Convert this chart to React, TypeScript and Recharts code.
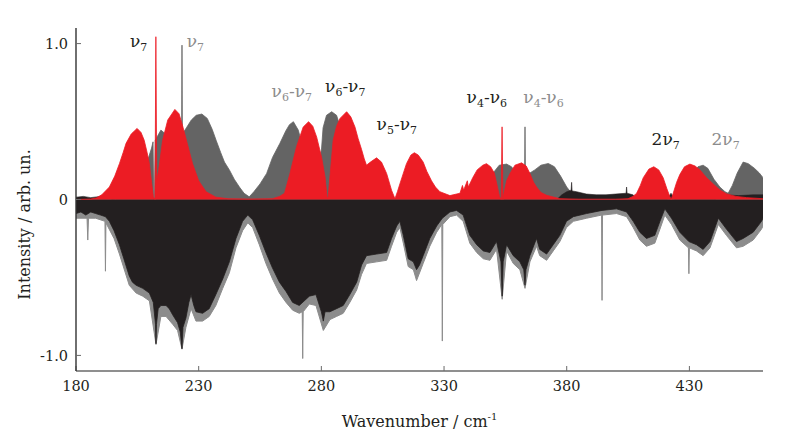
import React from "react";
import { ComposedChart, Area, XAxis, YAxis, ReferenceDot } from "recharts";

// ---- data (wavenumber, intensity) ----
const grayPts: [number, number][] = [
  [180, 0.005], [195, 0.005], [200, 0.01], [203, 0.04], [205.8, 0.1], [207.5, 0.17], [209.2, 0.25], [210.8, 0.33],
  [211.4, 0.37], [211.7, 0.0], [212.0, 0.0], [212.3, 0.38], [214.6, 0.445], [216.5, 0.42], [218.5, 0.36], [220, 0.33],
  [221.5, 0.34], [222.8, 0.38], [223.05, 0.4], [223.2, 0.99], [223.35, 0.42], [225, 0.46], [227, 0.51], [229, 0.54],
  [231.3, 0.548], [233.5, 0.52], [235.5, 0.45], [237.1, 0.38], [239, 0.3], [240.5, 0.24], [242.5, 0.19], [244.5, 0.13],
  [246.6, 0.08], [248.5, 0.04], [250.6, 0.017], [252.5, 0.05], [255, 0.1], [257.7, 0.167], [260.1, 0.27], [263.1, 0.36],
  [265.5, 0.44], [267, 0.48], [268.6, 0.499], [270.6, 0.445], [273, 0.3], [275.5, 0.18], [277.5, 0.15], [279, 0.22],
  [280.1, 0.33], [280.7, 0.46], [282.1, 0.54], [284.2, 0.563], [286.2, 0.54], [288, 0.45], [291, 0.3], [294, 0.15],
  [297, 0.05], [300, 0.02], [310, 0.005], [340, 0.005], [344, 0.02], [347, 0.08], [350, 0.17], [352.5, 0.22],
  [355.5, 0.227], [357.5, 0.21], [359.5, 0.17], [361.5, 0.15], [362.85, 0.16], [363, 0.466], [363.15, 0.17],
  [365, 0.17], [367, 0.19], [369.5, 0.22], [372.5, 0.231], [375, 0.21], [377.5, 0.15], [380, 0.08], [382, 0.04],
  [384, 0.02], [388, 0.005], [420, 0.005], [425, 0.03], [428, 0.1], [431, 0.17], [433.5, 0.21], [435.6, 0.22],
  [437.5, 0.2], [440, 0.13], [442.4, 0.08], [444.5, 0.05], [445.8, 0.04], [447.5, 0.09], [449.5, 0.17], [451.9, 0.24],
  [454, 0.23], [456.5, 0.2], [458.5, 0.17], [460, 0.14],
];

const redPts: [number, number][] = [
  [180, 0.0], [186, 0.003], [188.2, 0.01], [190.5, 0.03], [193.6, 0.08], [195.8, 0.15], [197.7, 0.23], [199.2, 0.3],
  [200.4, 0.36], [202.5, 0.42], [204.9, 0.456], [206.5, 0.43], [207.8, 0.38], [209, 0.3], [209.9, 0.23], [210.8, 0.11],
  [211.5, 0.02], [212.2, 0.0], [212.55, 1.044], [212.9, 0.12], [213.7, 0.19], [215.3, 0.38], [217.4, 0.51],
  [220.3, 0.578], [222, 0.55], [223.5, 0.47], [225.5, 0.35], [227.5, 0.23], [230, 0.12], [233, 0.05], [237, 0.015],
  [242, 0.005], [250, 0.003], [260, 0.005], [263, 0.02], [265, 0.04], [267.2, 0.167], [269.9, 0.34], [272.6, 0.465],
  [274.8, 0.499], [276.5, 0.47], [278.1, 0.4], [280.1, 0.27], [281.5, 0.145], [282.4, 0.006], [282.8, 0.02],
  [283.8, 0.2], [284.8, 0.38], [286.2, 0.47], [287.6, 0.52], [290.3, 0.563], [292, 0.53], [293.7, 0.465], [295, 0.39],
  [296.4, 0.32], [297.5, 0.26], [298.4, 0.22], [300, 0.24], [302.5, 0.267], [304.5, 0.24], [306.6, 0.167],
  [308.6, 0.06], [310, 0.005], [311, 0.05], [312, 0.1], [314.7, 0.23], [316.5, 0.285], [317.9, 0.3], [319.5, 0.285],
  [321.5, 0.24], [323, 0.18], [324.9, 0.12], [326.5, 0.08], [328.3, 0.05], [332.4, 0.025], [333.7, 0.03],
  [336.5, 0.04], [337.5, 0.09], [338, 0.06], [339.5, 0.12], [339.9, 0.08], [341.7, 0.14], [343.5, 0.19],
  [345.8, 0.22], [347.3, 0.23], [349, 0.21], [350.5, 0.17], [351.5, 0.1], [352.6, 0.02], [353.3, 0.0],
  [353.65, 0.466], [354.0, 0.0], [354.3, 0.03], [355.5, 0.12], [356.9, 0.167], [358.9, 0.22], [361.6, 0.235],
  [363.5, 0.215], [365, 0.167], [366.5, 0.11], [367.7, 0.08], [369.5, 0.045], [371.8, 0.027], [377.2, 0.005],
  [385, 0.002], [400, 0.002], [405, 0.005], [407, 0.02], [408.5, 0.04], [410, 0.09], [411.2, 0.14], [413.5, 0.195],
  [415.5, 0.21], [417.5, 0.19], [419.3, 0.14], [420.8, 0.07], [422, 0.02], [422.6, 0.0], [423.4, 0.04],
  [424.8, 0.11], [426.1, 0.16], [428, 0.21], [430.2, 0.227], [432.3, 0.215], [434.3, 0.19], [437, 0.14],
  [439.7, 0.1], [442.5, 0.06], [445.2, 0.036], [449, 0.02], [453.3, 0.012], [460, 0.005],
];

const noisePts: [number, number][] = [
  [180, 0.015], [183, 0.02], [186, 0.012], [190, 0.02], [193, 0.01], [196, 0.0], [330, 0.0], [333, 0.015],
  [336, 0.01], [338, 0.0], [376, 0.0], [378, 0.03], [380, 0.05], [381.8, 0.06], [382, 0.11], [382.2, 0.055],
  [384, 0.05], [388, 0.035], [392, 0.03], [396, 0.03], [400, 0.035], [404.2, 0.04], [404.4, 0.08], [404.6, 0.04],
  [407, 0.03], [409, 0.0], [421, 0.0], [422.5, 0.04], [424, 0.0], [440, 0.0], [444, 0.03], [450, 0.025],
  [456, 0.03], [460, 0.03],
];

const fringePts: [number, number][] = [
  [180, -0.12], [184.5, -0.12], [184.8, -0.26], [185.1, -0.12], [188, -0.12], [191.8, -0.14], [192, -0.46],
  [192.2, -0.15], [195.5, -0.25], [197.7, -0.35], [201.7, -0.55], [204.5, -0.6], [207.2, -0.62], [209.9, -0.65],
  [212.6, -0.93], [214.6, -0.75], [216.7, -0.75], [219.4, -0.8], [221.4, -0.84], [223.2, -0.96], [224.8, -0.82],
  [226.9, -0.7], [228.9, -0.78], [231.6, -0.78], [234.3, -0.75], [237, -0.68], [239.8, -0.57], [242.5, -0.47],
  [245.2, -0.31], [247.9, -0.2], [250, -0.15], [252, -0.18], [254.7, -0.29], [257.4, -0.41], [260.1, -0.51],
  [262.9, -0.6], [265.6, -0.66], [268.3, -0.71], [271, -0.73], [272.2, -0.72], [272.4, -1.02], [272.6, -0.72],
  [275.1, -0.67], [277.8, -0.68], [280.8, -0.84], [283.5, -0.77], [286.2, -0.75], [288.9, -0.73], [291.6, -0.66],
  [294.4, -0.58], [296.4, -0.48], [298.4, -0.41], [302.5, -0.4], [306.6, -0.39], [308.6, -0.3], [310.7, -0.21],
  [312, -0.18], [313.4, -0.28], [315.4, -0.43], [317.5, -0.45], [318.8, -0.52], [321.5, -0.41], [324.2, -0.3],
  [327, -0.21], [329.1, -0.16], [329.3, -0.908], [329.5, -0.16], [332.4, -0.11], [335.1, -0.1], [337.8, -0.14],
  [340.5, -0.28], [343.3, -0.34], [346, -0.38], [348.7, -0.39], [351.4, -0.32], [353.7, -0.64], [355.5, -0.33],
  [358.2, -0.41], [360.9, -0.45], [363, -0.57], [365, -0.4], [367.7, -0.3], [369, -0.36], [371.8, -0.39],
  [374.5, -0.33], [377.2, -0.27], [379.9, -0.18], [382.7, -0.14], [388.1, -0.12], [394.2, -0.1], [394.4, -0.647],
  [394.6, -0.1], [400.3, -0.09], [404.4, -0.11], [407.1, -0.18], [409.8, -0.26], [412.5, -0.3], [415.9, -0.28],
  [418, -0.19], [420, -0.1], [422.7, -0.16], [426.1, -0.26], [429.6, -0.31], [429.8, -0.476], [430, -0.31],
  [432.9, -0.33], [435.6, -0.36], [438.4, -0.31], [441.8, -0.16], [445.1, -0.23], [449.2, -0.31], [451.9, -0.3],
  [456, -0.26], [459.4, -0.19], [460, -0.17],
];

const corePts: [number, number][] = [
  [180, -0.09], [182, -0.08], [184, -0.1], [186, -0.08], [188, -0.09], [190, -0.1], [192, -0.11], [193.6, -0.14],
  [195.5, -0.2], [197.7, -0.29], [199.5, -0.38], [201.7, -0.49], [203, -0.53], [204.5, -0.55], [207.2, -0.57],
  [209.9, -0.6], [211.5, -0.66], [212.4, -0.8], [212.6, -0.925], [212.8, -0.8], [213.5, -0.7], [214.6, -0.68],
  [216.7, -0.68], [218, -0.7], [219.4, -0.74], [221.4, -0.79], [222.5, -0.85], [223.2, -0.957], [223.6, -0.82],
  [224.8, -0.76], [226, -0.66], [226.9, -0.61], [228, -0.68], [228.9, -0.72], [231.6, -0.73], [234.3, -0.7],
  [237, -0.61], [239.8, -0.51], [242.5, -0.4], [245.2, -0.25], [247.9, -0.14], [250, -0.1], [252, -0.13],
  [254.7, -0.23], [257.4, -0.34], [260.1, -0.44], [262.9, -0.53], [265.6, -0.59], [268.3, -0.66], [271, -0.68],
  [275.1, -0.62], [277.8, -0.61], [280, -0.72], [280.8, -0.78], [281.5, -0.72], [283.5, -0.72], [286.2, -0.7],
  [288.9, -0.68], [291.6, -0.61], [294.4, -0.53], [296.4, -0.42], [298.4, -0.36], [302.5, -0.35], [306.6, -0.34],
  [308.6, -0.25], [310.7, -0.17], [312, -0.14], [313.4, -0.23], [315.4, -0.38], [317.5, -0.4], [318.8, -0.45],
  [320, -0.42], [321.5, -0.36], [324.2, -0.25], [327, -0.17], [329.3, -0.12], [332.4, -0.08], [335.1, -0.07],
  [337.8, -0.1], [340.5, -0.23], [343.3, -0.29], [346, -0.33], [348.7, -0.34], [351.4, -0.27], [353.2, -0.4],
  [353.7, -0.62], [354.1, -0.4], [355.5, -0.29], [358.2, -0.36], [360.9, -0.4], [362.5, -0.45], [363, -0.55],
  [363.4, -0.45], [365, -0.36], [367.7, -0.25], [369, -0.32], [371.8, -0.35], [374.5, -0.29], [377.2, -0.23],
  [379.9, -0.14], [382.7, -0.11], [388.1, -0.09], [394.4, -0.07], [400.3, -0.06], [404.4, -0.08], [407.1, -0.14],
  [409.8, -0.21], [412.5, -0.25], [415.9, -0.23], [418, -0.14], [420, -0.06], [422.7, -0.12], [426.1, -0.21],
  [429.8, -0.27], [432.9, -0.29], [435.6, -0.32], [438.4, -0.27], [441.8, -0.12], [445.1, -0.19], [449.2, -0.27],
  [451.9, -0.25], [456, -0.21], [459.4, -0.14], [460, -0.12],
];

const X_TICKS = [180, 230, 280, 330, 380, 430];
const Y_TICKS = [-1, 0, 1];
const Y_TICKS_RIGHT = [-1, 1];

// annotations: position (wavenumber, intensity), text parts [main, subscript], tone
const labelX = [202.0, 225.1, 259.7, 281.5, 302.5, 339.2, 362.3, 414.6, 439.0];
const labelY = [0.978, 0.978, 0.659, 0.691, 0.445, 0.617, 0.617, 0.351, 0.351];
const labelParts: [string, string][][] = [
  [["ν", "7"]],
  [["ν", "7"]],
  [["ν", "6"], ["-ν", "7"]],
  [["ν", "6"], ["-ν", "7"]],
  [["ν", "5"], ["-ν", "7"]],
  [["ν", "4"], ["-ν", "6"]],
  [["ν", "4"], ["-ν", "6"]],
  [["2ν", "7"]],
  [["2ν", "7"]],
];
const labelTone = ["dark", "light", "light", "dark", "dark", "dark", "light", "dark", "light"];

// ---- build table ----
function buildTable() {
  const map = new Map<number, any>();
  const add = (pts: [number, number][], key: string) => {
    pts.forEach(([x, y]) => {
      const row = map.get(x) ?? { x };
      row[key] = y;
      map.set(x, row);
    });
  };
  add(grayPts, "gray");
  add(redPts, "red");
  add(noisePts, "noise");
  add(fringePts, "fringe");
  add(corePts, "core");
  return Array.from(map.values()).sort((a, b) => a.x - b.x);
}
const table = buildTable();

const FONT = "'DejaVu Serif', serif";
const DARK = "#231f20";
const LIGHT = "#8c8c8c";
const AXIS = "#6a6a6a";

function XTitle(props: any) {
  const vb = props.viewBox || { x: 68, y: 362.7, width: 687, height: 40 };
  const cx = vb.x + vb.width / 2;
  return (
    <text x={cx} y={vb.y + 56} textAnchor="middle" fontFamily={FONT} fontSize={16} fill={DARK}>
      Wavenumber / cm<tspan fontSize={10} dy={-7}>-1</tspan>
    </text>
  );
}

function YTitle(props: any) {
  const vb = props.viewBox || { x: 0, y: 20, width: 68, height: 342.4 };
  const x = vb.x + vb.width - 46;
  const cy = vb.y + vb.height / 2 + 25;
  return (
    <text x={x} y={cy} transform={`rotate(-90 ${x} ${cy})`} textAnchor="middle" fontFamily={FONT} fontSize={16} fill={DARK}>
      Intensity / arb. un.
    </text>
  );
}

function makeLabelShape(i: number) {
  return (p: any) => {
    const parts = labelParts[i];
    const color = labelTone[i] === "dark" ? DARK : LIGHT;
    const children: any[] = [];
    parts.forEach(([main, sub], k) => {
      children.push(
        <tspan key={"m" + k} dy={k === 0 ? 0 : -4}>{main}</tspan>
      );
      children.push(
        <tspan key={"s" + k} fontSize={11} dy={4}>{sub}</tspan>
      );
    });
    return (
      <text x={p.cx} y={p.cy} fontFamily={FONT} fontSize={17} fill={color}>
        {children}
      </text>
    );
  };
}

const emptyTick = () => <g />;

export default function App() {
  return (
    <ComposedChart
      width={781}
      height={430}
      data={table}
      margin={{ top: 20, right: 26, bottom: 27, left: 0 }}
    >
      <XAxis
        dataKey="x"
        type="number"
        domain={[180, 460]}
        ticks={X_TICKS}
        allowDataOverflow
        height={40}
        tickSize={-5}
        tickMargin={15}
        stroke={AXIS}
        axisLine={{ stroke: AXIS, strokeWidth: 1.4 }}
        tickLine={{ stroke: AXIS, strokeWidth: 1 }}
        tick={{ fill: DARK, fontFamily: FONT, fontSize: 14.5 }}
        label={{ content: XTitle }}
      />
      <XAxis
        xAxisId="top"
        orientation="top"
        dataKey="x"
        type="number"
        domain={[180, 460]}
        ticks={X_TICKS}
        allowDataOverflow
        height={0}
        tickSize={-5}
        axisLine={{ stroke: "#333", strokeWidth: 1.2 }}
        tickLine={{ stroke: AXIS, strokeWidth: 1 }}
        tick={emptyTick}
      />
      <YAxis
        type="number"
        domain={[-1.1, 1.1]}
        ticks={Y_TICKS}
        allowDataOverflow
        width={68}
        tickSize={-5}
        tickMargin={13}
        axisLine={{ stroke: "#333", strokeWidth: 1.4 }}
        tickLine={{ stroke: AXIS, strokeWidth: 1 }}
        tick={{ fill: DARK, fontFamily: FONT, fontSize: 14.5 }}
        tickFormatter={(v: number) => (v === 0 ? "0" : v.toFixed(1))}
        label={{ content: YTitle }}
      />
      <YAxis
        yAxisId="right"
        orientation="right"
        type="number"
        domain={[-1.1, 1.1]}
        ticks={Y_TICKS_RIGHT}
        allowDataOverflow
        width={0}
        tickSize={-5}
        axisLine={{ stroke: AXIS, strokeWidth: 1.4 }}
        tickLine={{ stroke: AXIS, strokeWidth: 1 }}
        tick={emptyTick}
      />
      <Area dataKey="fringe" type="linear" baseValue={0} connectNulls fill={LIGHT} fillOpacity={1} stroke={LIGHT} strokeWidth={1} dot={false} activeDot={false} isAnimationActive={false} />
      <Area dataKey="core" type="linear" baseValue={0} connectNulls fill={DARK} fillOpacity={1} stroke={DARK} strokeWidth={0.8} dot={false} activeDot={false} isAnimationActive={false} />
      <Area dataKey="gray" type="linear" baseValue={0} connectNulls fill="#646464" fillOpacity={1} stroke="#646464" strokeWidth={0.8} dot={false} activeDot={false} isAnimationActive={false} />
      <Area dataKey="noise" type="linear" baseValue={0} connectNulls fill={DARK} fillOpacity={1} stroke={DARK} strokeWidth={0.6} dot={false} activeDot={false} isAnimationActive={false} />
      <Area dataKey="red" type="linear" baseValue={0} connectNulls fill="#ec1c24" fillOpacity={1} stroke="#ec1c24" strokeWidth={0.8} dot={false} activeDot={false} isAnimationActive={false} />
      {labelX.map((lx, i) => (
        <ReferenceDot key={i} x={lx} y={labelY[i]} r={0} shape={makeLabelShape(i)} ifOverflow="visible" />
      ))}
    </ComposedChart>
  );
}
